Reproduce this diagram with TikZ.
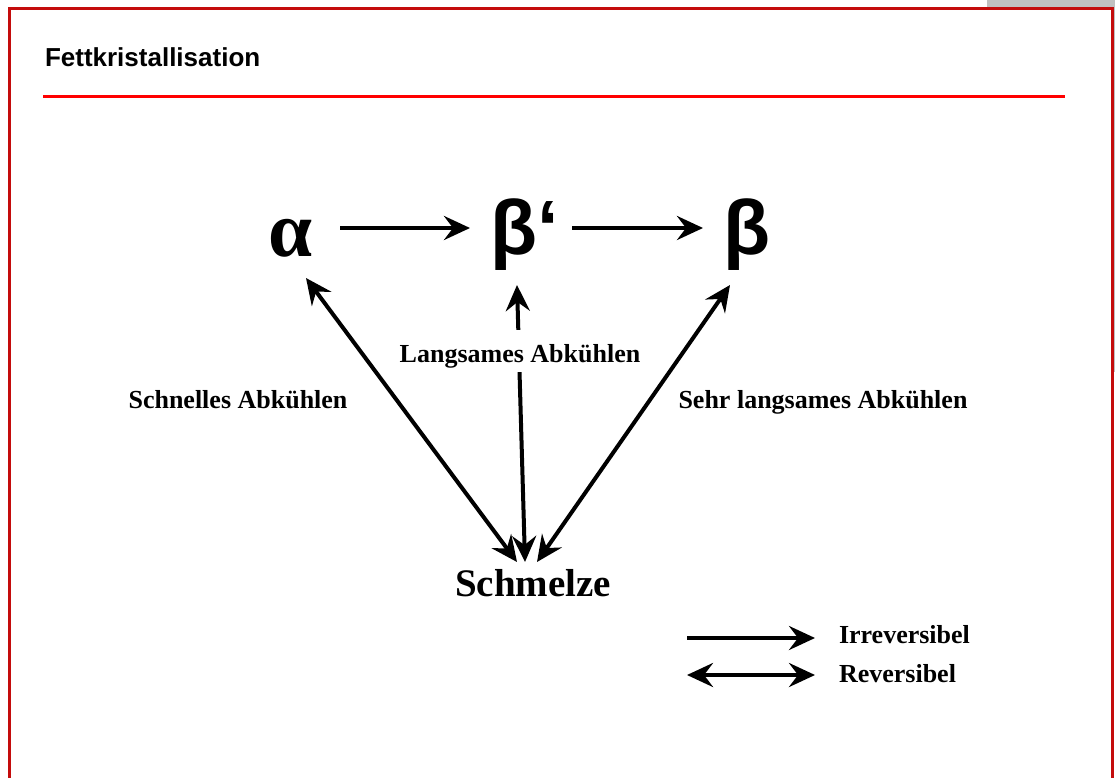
\documentclass[tikz,border=0pt]{standalone}
\usepackage{fontspec}
\setmainfont{Liberation Serif}
\newfontfamily\headfont{Liberation Sans}
\usetikzlibrary{arrows.meta}
\definecolor{framered}{RGB}{196,12,12}
\definecolor{cornergray}{RGB}{192,192,192}

\begin{document}
\begin{tikzpicture}[x=1pt,y=-1pt,line width=4pt,
                    >={Stealth[length=26pt,width=24pt,inset=9pt]},
                    greek node/.style={inner sep=0pt,anchor=base,font=\fontsize{77}{80}\selectfont},
                    label node/.style={inner sep=0pt,anchor=base,font=\bfseries\fontsize{26}{30}\selectfont}]

  \useasboundingbox (0,0) rectangle (1115,778);
  % slide frame
  \fill[cornergray] (987,0) rectangle (1115,9);
  \fill[cornergray] (1113,0) rectangle (1115,372);
  \draw[framered,line width=3pt] (9,778) -- (9,9) -- (1112,9) -- (1112,778);
  \node[anchor=base west,inner sep=0pt,font=\headfont\bfseries\fontsize{26}{30}\selectfont]
    (title) at (43,67) {Fettkristallisation};
  \draw[red,line width=3pt] (43,97) -- (1065,97);

  % forms
  \node[greek node,font=\bfseries\fontsize{79}{82}\selectfont] (alpha) at (291,256) {α};
  \node[greek node,font=\headfont\bfseries\fontsize{77}{80}\selectfont] (betap) at (525,254) {β‘};
  \node[greek node,font=\headfont\bfseries\fontsize{77}{80}\selectfont] (beta) at (747,254) {β};
  \node[label node,font=\bfseries\fontsize{39}{44}\selectfont] (schmelze) at (533,596) {Schmelze};

  % transitions
  \draw[->] ([xshift=49pt,yshift=28pt]alpha.base) -- ([xshift=-55pt,yshift=26pt]betap.base);
  \draw[->] ([xshift=47pt,yshift=26pt]betap.base) -- ([xshift=-44pt,yshift=26pt]beta.base);
  \draw[<->] ([xshift=15pt,yshift=-22pt]alpha.base) -- ([xshift=-16pt,yshift=34pt]schmelze.base);
  \draw[<->] ([xshift=-8pt,yshift=-31pt]betap.base) -- ([xshift=-8pt,yshift=34pt]schmelze.base);
  \draw[<->] ([xshift=-17pt,yshift=-31pt]beta.base) -- ([xshift=4pt,yshift=34pt]schmelze.base);

  \node[label node,fill=white,inner sep=2pt,text height=30pt,text depth=8pt] (slow) at (520,362) {Langsames Abkühlen};
  \node[label node] (fast) at (238,408) {Schnelles Abkühlen};
  \node[label node] (veryslow) at (823,408) {Sehr langsames Abkühlen};

  % legend
  \node[label node,anchor=base west] (irr) at (837,643) {Irreversibel};
  \node[label node,anchor=base west] (rev) at (837,682) {Reversibel};
  \draw[->] ([xshift=-150pt,yshift=5pt]irr.base west) -- ([xshift=-22pt,yshift=5pt]irr.base west);
  \draw[<->] ([xshift=-150pt,yshift=7pt]rev.base west) -- ([xshift=-22pt,yshift=7pt]rev.base west);
\end{tikzpicture}
\end{document}
